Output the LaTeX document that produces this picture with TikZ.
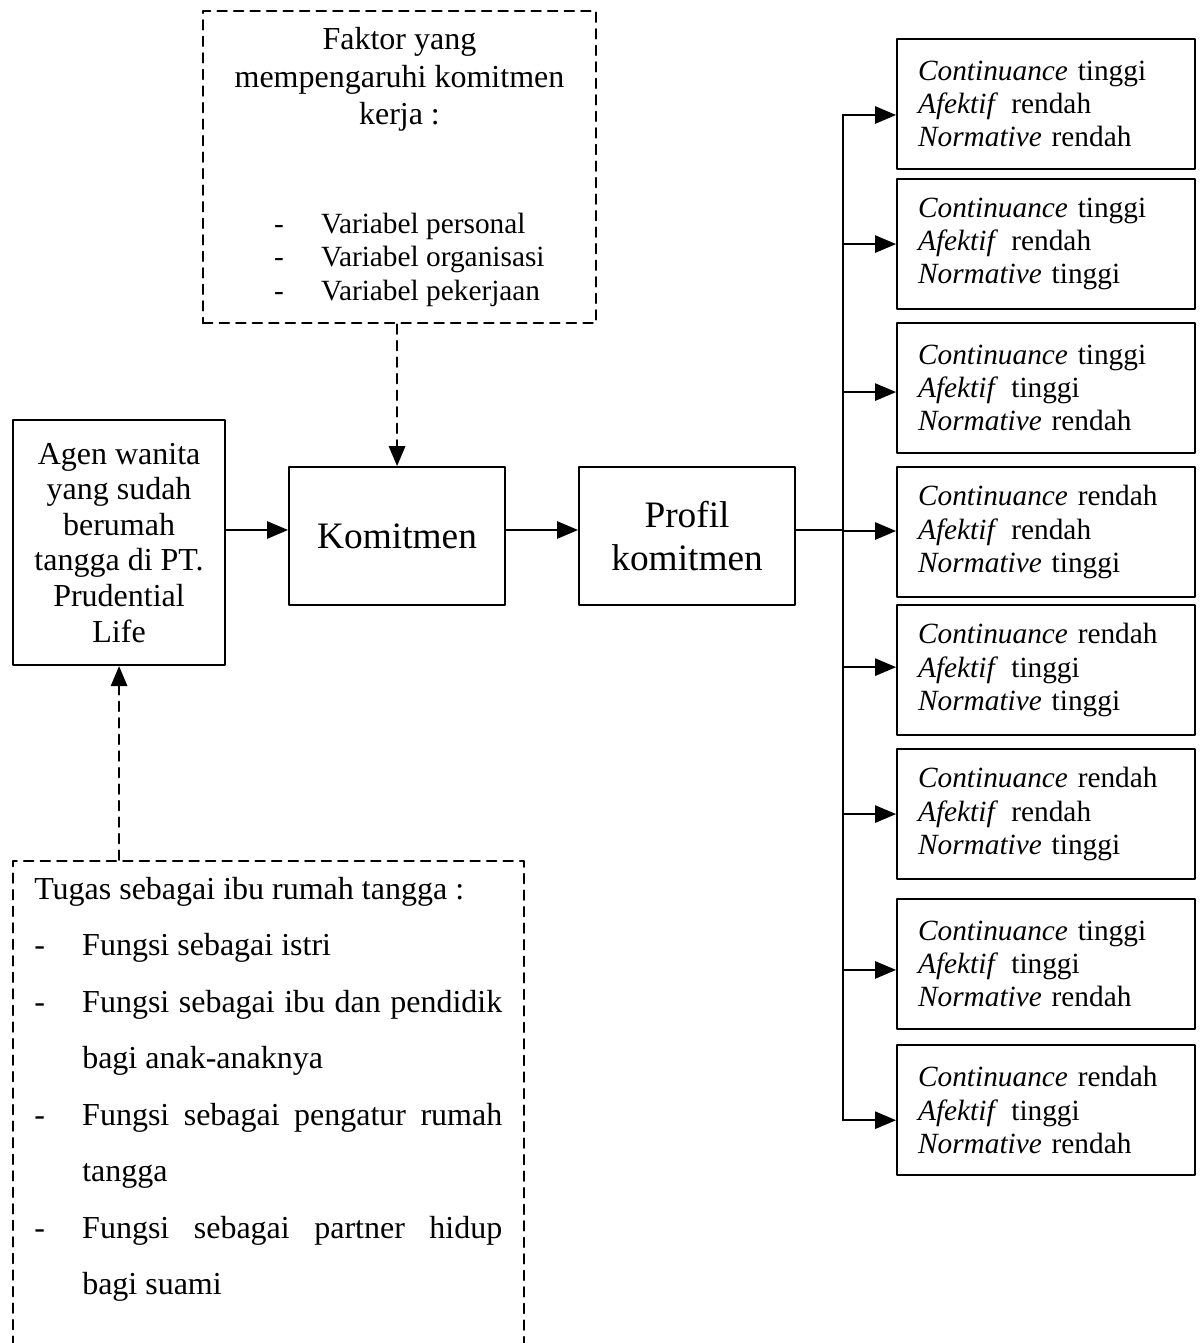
\documentclass[tikz,border=0pt]{standalone}
\usepackage{fontspec}
\setmainfont{Liberation Serif}
\usetikzlibrary{arrows}
\newcommand{\butir}[1]{\par\hangindent=18pt\hangafter=1\noindent\makebox[18pt][l]{-}#1}
\newcommand{\varitem}[1]{\makebox[103pt][l]{\fontsize{11}{12.6}\selectfont\makebox[17.6pt][l]{-}#1}\kern-9pt}

\begin{document}
\begin{tikzpicture}[line cap=round,line join=round,>=triangle 45,x=0.375pt,y=-0.375pt,
	garis/.style={line width=0.8pt},
	garisputus/.style={line width=0.7pt,dash pattern=on 3.6pt off 2.6pt},
	kotak/.style={draw,garis,anchor=north west,inner sep=0pt},
	putus/.style={draw,garisputus,anchor=north west},
	profilbox/.style={kotak,minimum width=111.75pt,minimum height=48.75pt,text width=96pt,align=left,font=\fontsize{11}{12.5}\selectfont}]
	\useasboundingbox (0,0) rectangle (1203,1343);
	\clip (0,0) rectangle (1203,1343);
	% faktor komitmen
	\node[putus,minimum width=147.4pt,inner ysep=6.3pt,align=center,font=\fontsize{12}{13.9}\selectfont] (faktor) at (202,10) {Faktor yang\\mempengaruhi komitmen\\kerja :\\[27pt]\varitem{Variabel personal}\\[-1.3pt]\varitem{Variabel organisasi}\\[-1.3pt]\varitem{Variabel pekerjaan}};
	% alur utama
	\node[kotak,minimum width=79.5pt,minimum height=91.9pt,align=center,font=\fontsize{12}{13.35}\selectfont] (agen) at (12,419) {Agen wanita\\yang sudah\\berumah\\tangga di PT.\\Prudential\\Life};
	\node[kotak,minimum width=81pt,minimum height=51.75pt,font=\fontsize{14}{16}\selectfont] (komit) at (288,466) {Komitmen};
	\node[kotak,minimum width=81pt,minimum height=51.75pt,align=center,font=\fontsize{14}{16}\selectfont] (profil) at (578,466) {Profil\\komitmen};
	% tugas ibu rumah tangga
	\node[putus,text width=175.5pt,inner xsep=8pt,inner ysep=6pt,align=justify,font=\fontsize{12}{21.2}\selectfont] (tugas) at (12,860) {\hyphenpenalty=10000\noindent Tugas sebagai ibu rumah tangga :\butir{Fungsi sebagai istri}\butir{Fungsi sebagai ibu dan pendidik\linebreak bagi anak-anaknya}\butir{Fungsi sebagai pengatur rumah\linebreak tangga}\butir{Fungsi sebagai partner hidup\linebreak bagi suami}\par\mbox{}\par\mbox{}\par\mbox{}};
	% profil
	\foreach \i/\y/\c/\a/\n in {1/38/tinggi/rendah/rendah,2/178/tinggi/rendah/tinggi,3/322/tinggi/tinggi/rendah,4/466/rendah/rendah/tinggi,5/604/rendah/tinggi/tinggi,6/748/rendah/rendah/tinggi,7/898/tinggi/tinggi/rendah,8/1044/rendah/tinggi/rendah}
	\node[profilbox] (p\i) at (896,\y) {\textit{Continuance} \c\\\textit{Afektif}\hspace{5pt}\a\\\textit{Normative} \n};
	\coordinate (cabang) at (843,530);
	\foreach \i/\d in {1/-4.1,2/0,3/-1.5,4/0.4,5/1.1,6/0,7/-2.2,8/-3.8}
	\path ([yshift=\d pt]p\i.west) coordinate (t\i);
	% panah
	\draw[->,garisputus] (komit.north |- faktor.south) -- (komit.north);
	\draw[->,garisputus] (agen.south |- tugas.north) -- (agen.south);
	\draw[->,garis] (agen.east |- cabang) -- (komit.west |- cabang);
	\draw[->,garis] (komit.east |- cabang) -- (profil.west |- cabang);
	\draw[garis] (profil.east |- cabang) -- (cabang);
	\draw[garis] (t1 -| cabang) -- (t8 -| cabang);
	\foreach \i in {1,...,8}
	\draw[->,garis] (t\i -| cabang) -- (t\i);
\end{tikzpicture}
\end{document}
